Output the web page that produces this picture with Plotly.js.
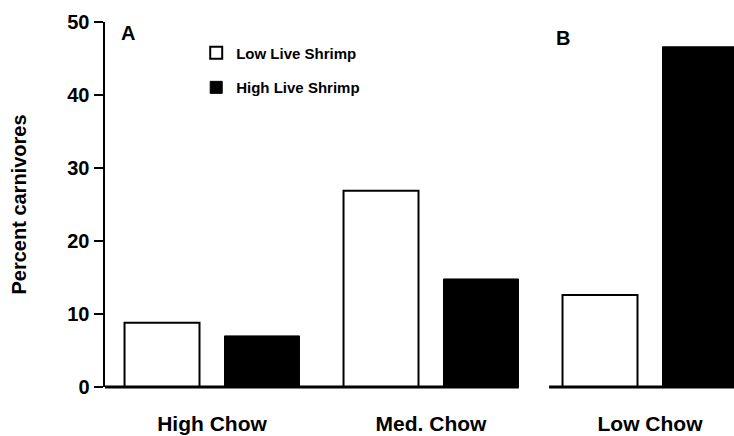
<!DOCTYPE html>
<html>
<head>
<meta charset="utf-8">
<script src="https://cdn.plot.ly/plotly-3.0.1.min.js"></script>
<style>html,body{margin:0;padding:0;background:#fff;}#chart{width:734px;height:436px;}</style>
</head>
<body>
<div id="chart"></div>
<script>
const categories = ['High Chow', 'Med. Chow', 'Low Chow'];
const seriesNames = ['Low Live Shrimp', 'High Live Shrimp'];
const lowShrimp = [8.8, 26.9, 12.6];
const highShrimp = [7.0, 14.8, 46.6];
const yTickVals = [0, 10, 20, 30, 40, 50];
const panelLabels = ['A', 'B'];

const FONT = 'Liberation Sans, Arial, Helvetica, sans-serif';

const traces = [
  {
    type: 'bar', x: categories, y: lowShrimp, name: seriesNames[0],
    legendgroup: 'g1',
    marker: {color: '#ffffff', line: {color: '#000000', width: 2}},
    hoverinfo: 'x+y'
  },
  {
    type: 'bar', x: categories, y: highShrimp, name: seriesNames[1],
    legendgroup: 'g2',
    marker: {color: '#000000', line: {color: '#000000', width: 1}},
    hoverinfo: 'x+y'
  }
];

const layout = {
  width: 734, height: 436,
  margin: {l: 105, r: 0, t: 22, b: 49, pad: 0},
  paper_bgcolor: '#ffffff', plot_bgcolor: '#ffffff',
  font: {family: FONT, color: '#000000'},
  barmode: 'group',
  bargap: 0.087,
  bargroupgap: 0.25,
  showlegend: true,
  legend: {
    x: 0.145, y: 0.96, xanchor: 'left', yanchor: 'top',
    font: {family: FONT, size: 15, weight: 'bold', color: '#000'},
    bgcolor: 'rgba(0,0,0,0)', traceorder: 'grouped', tracegroupgap: 12
  },
  xaxis: {
    type: 'category',
    range: [-0.4886, 2.3836],
    showline: false, zeroline: false, showgrid: false,
    ticks: '', ticklabelstandoff: 22,
    tickfont: {family: FONT, size: 21, weight: 'bold', color: '#000'},
    fixedrange: true
  },
  yaxis: {
    range: [0, 50],
    tickvals: yTickVals,
    showline: true, linecolor: '#000', linewidth: 2.5,
    ticks: 'outside', ticklen: 9, tickwidth: 2, tickcolor: '#000',
    showgrid: false, zeroline: false,
    tickfont: {family: FONT, size: 20, weight: 'bold', color: '#000'},
    title: {text: 'Percent carnivores', standoff: 36,
            font: {family: FONT, size: 20, weight: 'bold', color: '#000'}},
    fixedrange: true
  },
  shapes: [
    {type: 'line', xref: 'paper', yref: 'paper', x0: 0, x1: 0.658, y0: 0, y1: 0,
     line: {color: '#000', width: 3}},
    {type: 'line', xref: 'paper', yref: 'paper', x0: 0.706, x1: 1, y0: 0, y1: 0,
     line: {color: '#000', width: 3}}
  ],
  annotations: [
    {text: panelLabels[0], xref: 'paper', yref: 'paper', x: 0.0366, y: 0.97,
     xanchor: 'center', yanchor: 'middle',
     showarrow: false, font: {family: FONT, size: 20, weight: 'bold', color: '#000'}},
    {text: panelLabels[1], xref: 'paper', yref: 'paper', x: 0.728, y: 0.956,
     xanchor: 'center', yanchor: 'middle',
     showarrow: false, font: {family: FONT, size: 20, weight: 'bold', color: '#000'}}
  ]
};

Plotly.newPlot('chart', traces, layout, {displayModeBar: false, staticPlot: true});
</script>
</body>
</html>
